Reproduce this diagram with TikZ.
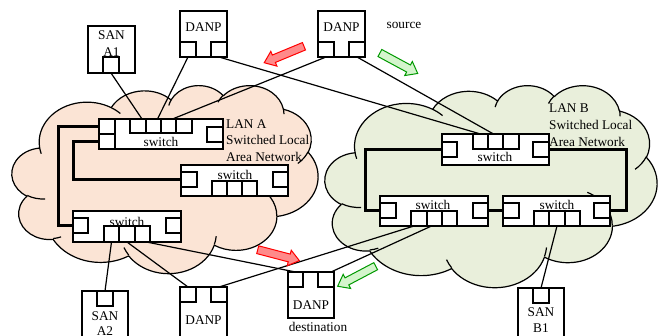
\documentclass[tikz,border=0pt]{standalone}
\usepackage{fontspec}
\setmainfont{Liberation Serif}
\usetikzlibrary{shapes.arrows}

\definecolor{lanAfill}{HTML}{FBE4D5}
\definecolor{lanBfill}{HTML}{E9EFDB}
\definecolor{arrowred}{HTML}{FF0000}
\definecolor{arrowredfill}{HTML}{FF8A8A}
\definecolor{arrowgreen}{HTML}{009900}
\definecolor{arrowgreenfill}{HTML}{D4F5CC}

% elliptical arc given by radii, start angle and sweep (visual angles)
\newcommand\carc[4]{%
  \pgfextra{%
    \pgfmathsetmacro\caT{atan2((#1)*sin(#3),(#2)*cos(#3))}%
    \pgfmathsetmacro\caU{atan2((#1)*sin((#3)+(#4)),(#2)*cos((#3)+(#4)))}%
    \pgfmathsetmacro\caU{\caU<\caT ? \caU+360 : \caU}%
    \global\let\caT\caT \global\let\caU\caU}%
  arc[x radius=#1, y radius=#2, start angle=\caT, end angle=\caU]}

% cloud outline in a 432 x 432 box, placed at (#1,#2) with size #3 x #4
\newcommand\lancloud[5]{%
  \begin{scope}[shift={(#1,#2)}, xscale=#3/432, yscale=#4/432]
    \filldraw[cloudline, fill=#5] (39.00,143.70)
      \carc{67.53}{91.90}{-190.4875}{123.7805}
      \carc{53.33}{72.67}{-144.1024}{89.9452}
      \carc{43.65}{59.45}{-145.8079}{99.7230}
      \carc{48.57}{65.95}{-130.9861}{117.2417}
      \carc{53.33}{72.73}{-78.7089}{109.0269}
      \carc{67.75}{92.20}{-46.2673}{130.2690}
      \carc{57.85}{78.67}{0.6250}{114.0333}
      \carc{67.52}{92.15}{22.4516}{115.1726}
      \carc{77.20}{105.43}{66.2426}{75.7110}
      \carc{43.60}{59.18}{-274.9421}{146.7356}
      \carc{43.45}{59.45}{-246.8285}{152.5189}
      -- cycle;
    \draw[cloudline]
      (46.93,261.77) \carc{43.45}{59.45}{86.7420}{26.4295}
      (69.28,348.99) \carc{43.60}{59.18}{73.6105}{11.4475}
      (164.78,390.90) \carc{67.52}{92.15}{137.6242}{14.0811}
      (288.27,347.51) \carc{67.52}{92.15}{6.4533}{15.9984}
      (341.29,229.54) \carc{57.85}{78.67}{-70.2924}{70.9174}
      (417.98,153.54) \carc{53.33}{72.73}{30.3180}{27.7515}
      (383.24,54.26) \carc{48.57}{65.95}{-13.7443}{14.8589}
      (290.78,39.52) \carc{48.57}{65.95}{-149.1815}{18.1954}
      (221.41,47.20) \carc{43.65}{59.45}{-163.4943}{17.6864}
      (140.00,51.92) \carc{67.53}{91.90}{-66.7070}{12.3194}
      (41.27,157.89) \carc{67.53}{91.90}{157.6544}{11.8539};
  \end{scope}}

% rectangle node from corner (#2,#3) to corner (#4,#5)
\newcommand\rect[5]{%
  \node[frame, minimum width={(#4-#2)*1pt}, minimum height={(#5-#3)*1pt}]
    (#1) at ({(#2+#4)/2},{(#3+#5)/2}) {};}

\tikzset{
  cloudline/.style={line width=1.2pt, line join=round},
  frame/.style={draw, line width=1.5pt, fill=white, inner sep=0pt, outer sep=0pt},
  link/.style={line width=1.2pt},
  trunk/.style={line width=3pt},
  lbl/.style={inner sep=0pt, font=\fontsize{13.3}{16}\selectfont},
  blockarrow/.style={single arrow, line width=1pt, inner sep=0pt,
    inner ysep=3.5pt, minimum height=43pt, minimum width=15pt,
    single arrow head extend=4pt, single arrow tip angle=75},
  redarrow/.style={blockarrow, draw=arrowred, fill=arrowredfill},
  greenarrow/.style={blockarrow, draw=arrowgreen, fill=arrowgreenfill},
}

\begin{document}
\begin{tikzpicture}[x=1pt, y=-1pt]
  \path[use as bounding box, fill=white] (0,0) rectangle (663,335);
  \clip (0,0) rectangle (663,335);

  % the two switched LANs
  \lancloud{12}{85}{306}{188}{lanAfill}
  \lancloud{325}{85}{332}{202}{lanBfill}

  % ---- nodes ----
  % SAN A1
  \rect{sanA1}{88}{26}{135}{73}
  \rect{sanA1p}{103}{57}{119}{73}
  % DANP (upper left)
  \rect{danpL}{180}{11}{227}{57}
  \rect{danpLa}{180}{42}{196}{57}
  \rect{danpLb}{211}{42}{227}{57}
  % DANP source
  \rect{danpS}{318}{11}{365}{57}
  \rect{danpSa}{318}{42}{334}{57}
  \rect{danpSb}{349}{42}{365}{57}

  % LAN A switches
  \rect{swA1}{99}{119}{223}{149}
  \rect{swA2}{181}{165}{288}{196}
  \rect{swA3}{73}{211}{181}{242}
  % LAN B switches
  \rect{swB1}{442}{134}{549}{165}
  \rect{swB2}{380}{196}{488}{226}
  \rect{swB3}{503}{196}{610}{226}

  % lower row
  \rect{sanA2}{82}{291}{128}{345}
  \rect{sanA2p}{97}{291}{113}{306}
  \rect{danpD}{180}{287}{227}{345}
  \rect{danpDa}{180}{287}{196}{302}
  \rect{danpDb}{211}{287}{227}{302}
  \rect{danpT}{288}{272}{334}{318}
  \rect{danpTa}{288}{272}{303}{287}
  \rect{danpTb}{318}{272}{334}{287}
  \rect{sanB1}{518}{288}{564}{345}
  \rect{sanB1p}{533}{288}{549}{303}

  % switch ports
  \rect{swA1l1}{99}{119}{115}{134}
  \rect{swA1l2}{99}{134}{115}{149}
  \rect{swA1t1}{130}{119}{146}{133}
  \rect{swA1t2}{146}{119}{161}{133}
  \rect{swA1t3}{161}{119}{176}{133}
  \rect{swA1t4}{176}{119}{192}{133}
  \rect{swA1r}{207}{127}{223}{142}

  \rect{swA2l}{181}{172}{197}{187}
  \rect{swA2r}{273}{172}{288}{187}
  \rect{swA2b1}{212}{181}{227}{196}
  \rect{swA2b2}{227}{181}{242}{196}
  \rect{swA2b3}{242}{181}{257}{196}

  \rect{swA3l}{73}{218}{88}{233}
  \rect{swA3r}{166}{218}{181}{233}
  \rect{swA3b1}{104}{226}{119}{242}
  \rect{swA3b2}{119}{226}{135}{242}
  \rect{swA3b3}{135}{226}{150}{242}

  \rect{swB1l}{442}{142}{457}{157}
  \rect{swB1r}{533}{142}{549}{157}
  \rect{swB1t1}{473}{134}{488}{149}
  \rect{swB1t2}{488}{134}{503}{149}
  \rect{swB1t3}{503}{134}{519}{149}

  \rect{swB2l}{380}{203}{396}{218}
  \rect{swB2r}{473}{203}{488}{218}
  \rect{swB2b1}{411}{211}{427}{226}
  \rect{swB2b2}{427}{211}{442}{226}
  \rect{swB2b3}{442}{211}{457}{226}

  \rect{swB3l}{503}{203}{519}{218}
  \rect{swB3r}{594}{203}{610}{218}
  \rect{swB3b1}{534}{211}{549}{226}
  \rect{swB3b2}{549}{211}{565}{226}
  \rect{swB3b3}{565}{211}{580}{226}

  % ---- trunk lines between switches ----
  \draw[trunk] (swA1l1.west) -- ++(-41,0) |- (swA3l.west);
  \draw[trunk] (swA1l2.west) -- ++(-26,0) |- (swA2l.west);
  \draw[trunk] (swB1l.west) -- ++(-77,0) |- (swB2l.west);
  \draw[trunk] (swB1r.east) -- ++(77,0) |- (swB3r.east);
  \draw[trunk] (swB2r.east) -- (swB3l.west);

  % ---- links ----
  \draw[link] (sanA1p.south) -- ([xshift=4pt]swA1t1.north);
  \draw[link] (danpLa.south) -- ([xshift=4pt]swA1t2.north);
  \draw[link] (danpSa.south) -- ([xshift=4pt]swA1t3.north);
  \draw[link] (danpLb.south) -- (swB1t1.north);
  \draw[link] (danpSb.south) -- ([xshift=-2pt]swB1t2.north);
  \draw[link] (swA3b1.south) -- (sanA2p.north);
  \draw[link] (swA3b2.south) -- (danpDa.north);
  \draw[link] ([xshift=4pt]swA3b3.south) -- (danpTa.north);
  \draw[link] (danpDb.north) -- ([xshift=-5pt]swB2b1.south);
  \draw[link] ([xshift=5pt]danpTb.north) -- ([xshift=-3pt]swB2b2.south);
  \draw[link] (sanB1p.north) -- (swB3b2.south);

  % ---- labels ----
  \node[lbl] (tsanA1a) at (111.5,35) {SAN};
  \node[lbl] (tsanA1b) at (111.5,52) {A1};
  \node[lbl] (tdanpL) at (203.5,27) {DANP};
  \node[lbl] (tdanpS) at (341.5,27) {DANP};
  \node[lbl] (tsource) at (404,25) {source};
  \node[lbl] (tswA1) at (161,142) {switch};
  \node[lbl] (tswA2) at (235,175) {switch};
  \node[lbl] (tswA3) at (127,222) {switch};
  \node[lbl] (tswB1) at (495,157) {switch};
  \node[lbl] (tswB2) at (433,205) {switch};
  \node[lbl] (tswB3) at (557,205) {switch};
  \node[lbl, anchor=base west] (lanA1) at (226,128) {LAN A};
  \node[lbl, anchor=base west] (lanA2) at (226,144.5) {Switched Local};
  \node[lbl, anchor=base west] (lanA3) at (226,161) {Area Network};
  \node[lbl, anchor=base west] (lanB1) at (549,112) {LAN B};
  \node[lbl, anchor=base west] (lanB2) at (549,129) {Switched Local};
  \node[lbl, anchor=base west] (lanB3) at (549,146) {Area Network};
  \node[lbl] (tsanA2a) at (105,316) {SAN};
  \node[lbl] (tsanA2b) at (105,331) {A2};
  \node[lbl] (tdanpD) at (203.5,320) {DANP};
  \node[lbl] (tdanpT) at (311,305) {DANP};
  \node[lbl] (tdest) at (318,327) {destination};
  \node[lbl] (tsanB1a) at (541,312) {SAN};
  \node[lbl] (tsanB1b) at (541,328) {B1};

  % ---- traffic direction arrows ----
  \node[redarrow, rotate=202.5] (redtop) at (286.5,53.5) {};
  \node[greenarrow, rotate=-28.4] (greentop) at (396.5,62) {};
  \node[redarrow, rotate=-14.7] (redbottom) at (276,254.5) {};
  \node[greenarrow, rotate=207.8] (greenbottom) at (359,275) {};
\end{tikzpicture}
\end{document}
